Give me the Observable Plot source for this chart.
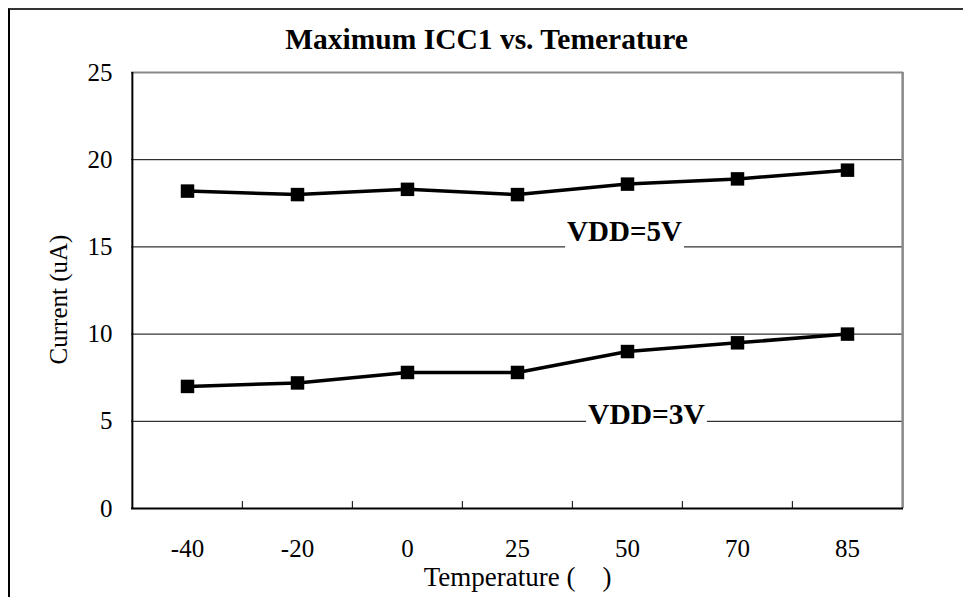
<!DOCTYPE html>
<html>
<head>
<meta charset="utf-8">
<script src="https://cdn.jsdelivr.net/npm/d3@7"></script>
<script src="https://cdn.jsdelivr.net/npm/@observablehq/plot@0.6"></script>
<style>
  html, body { margin: 0; padding: 0; background: white; }
  #wrap { position: relative; width: 963px; height: 597px; }
  #border { position: absolute; left: 8px; top: 8px; right: -10px; bottom: -10px;
            border-left: 2px solid #000; border-top: 2px solid #333; pointer-events: none; }
</style>
</head>
<body>
<div id="wrap"><div id="border"></div></div>
<script>
const temperatures = ["-40", "-20", "0", "25", "50", "70", "85"];
const vdd5 = [18.2, 18.0, 18.3, 18.0, 18.6, 18.9, 19.4];
const vdd3 = [7.0, 7.2, 7.8, 7.8, 9.0, 9.5, 10.0];
const seriesNames = ["VDD=5V", "VDD=3V"];
const yTicks = [0, 5, 10, 15, 20, 25];
const gridValues = [5, 10, 15, 20];

const rows = [
  ...temperatures.map((t, i) => ({t, v: vdd5[i], s: seriesNames[0]})),
  ...temperatures.map((t, i) => ({t, v: vdd3[i], s: seriesNames[1]}))
];

const W = 963, H = 597, ML = 131, MR = 60, MT = 72, MB = 89;
const step = (W - ML - MR) / temperatures.length;
const serif = "'Liberation Serif', 'Times New Roman', Times, serif";

const chart = Plot.plot({
  width: W, height: H,
  marginLeft: ML, marginRight: MR, marginTop: MT, marginBottom: MB,
  style: {fontFamily: serif, fontSize: "25px", color: "black", background: "white", overflow: "visible"},
  x: {type: "point", domain: temperatures, padding: 0.5},
  y: {domain: [0, 25]},
  marks: [
    Plot.ruleY(gridValues, {stroke: "black", strokeWidth: 1}),
    Plot.ruleY([25], {stroke: "#888", strokeWidth: 2}),
    Plot.ruleX([temperatures[temperatures.length - 1]], {dx: step / 2, y1: 0, y2: 25, stroke: "#888", strokeWidth: 2.5}),
    Plot.ruleX([temperatures[0]], {dx: -step / 2, y1: 0, y2: 25, stroke: "black", strokeWidth: 2}),
    Plot.ruleY([0], {stroke: "black", strokeWidth: 2}),
    Plot.ruleX(temperatures.slice(1), {dx: -step / 2, y1: 0, y2: 0.4, stroke: "black", strokeWidth: 1}),
    Plot.axisY({ticks: yTicks, tickSize: 0, tickPadding: 19, label: null}),
    Plot.axisX({tickSize: 0, tickPadding: 31, label: null}),
    Plot.text([seriesNames[0]], {x: () => "50", y: () => 15.85, text: d => d, dx: -3, fontSize: 29, fontWeight: "bold", fontFamily: "Times New Roman", lineAnchor: "middle"}),
    Plot.text([seriesNames[1]], {x: () => "50", y: () => 5.4, text: d => d, dx: 19, fontSize: 29.5, fontWeight: "bold", fontFamily: "Times New Roman", lineAnchor: "middle"}),
    Plot.line(rows, {x: "t", y: "v", z: "s", stroke: "black", strokeWidth: 3.5}),
    Plot.dot(rows, {x: "t", y: "v", symbol: "square", r: 7.6, fill: "black", stroke: "none"}),
    Plot.text(["Maximum ICC1 vs. Temerature"], {frameAnchor: "top", text: d => d, dx: -31, dy: -33, fontSize: 29.5, fontWeight: "bold", fontFamily: "Times New Roman", lineAnchor: "middle"}),
    Plot.text(["Temperature (\u00a0\u00a0\u00a0\u00a0)"], {frameAnchor: "bottom", text: d => d, dy: 69, fontSize: 27, lineAnchor: "middle"}),
    Plot.text(["Current (uA)"], {frameAnchor: "left", text: d => d, dx: -73, dy: 9, rotate: -90, fontSize: 25, textAnchor: "middle", lineAnchor: "middle"})
  ]
});

document.getElementById("wrap").insertBefore(chart, document.getElementById("border"));
chart.style.position = "absolute";
chart.style.left = "0";
chart.style.top = "0";

// white background behind the series labels (masks the gridlines like the original)
d3.select(chart).selectAll("text").each(function() {
  if (seriesNames.includes(this.textContent)) {
    const b = this.getBBox();
    const tr = this.getAttribute("transform");
    const r = document.createElementNS("http://www.w3.org/2000/svg", "rect");
    r.setAttribute("x", b.x - 2);
    r.setAttribute("y", b.y - 2);
    r.setAttribute("width", b.width + 4);
    r.setAttribute("height", b.height + 4);
    r.setAttribute("fill", "white");
    r.setAttribute("stroke", "none");
    if (tr) r.setAttribute("transform", tr);
    this.parentNode.insertBefore(r, this);
  }
});
</script>
</body>
</html>
